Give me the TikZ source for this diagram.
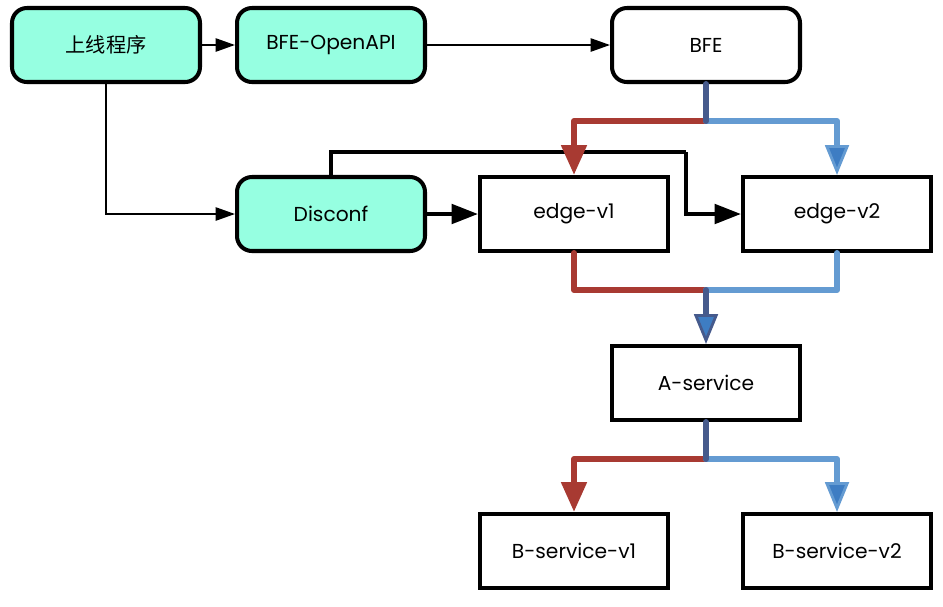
\documentclass[tikz,border=0pt]{standalone}
\usepackage{fontspec}
\setmainfont{Poppins}
\newfontfamily\cjk{Noto Sans CJK SC}
\usetikzlibrary{arrows.meta,shadows}
\definecolor{tealfill}{RGB}{150,255,225}
\definecolor{vred}{RGB}{168,58,50}
\definecolor{vblue}{RGB}{100,155,210}
\definecolor{vblueinner}{RGB}{62,125,195}
\definecolor{vdark}{RGB}{70,90,140}
\begin{document}
\begin{tikzpicture}[x=0.02cm,y=-0.02cm,
    font=\fontsize{11.5}{14}\selectfont,
    box/.style={draw=black,line width=2.3pt,minimum width=3.76cm,minimum height=1.48cm,
      fill=white,drop shadow={shadow xshift=0.6pt,shadow yshift=-1.2pt,opacity=0.2}},
    rbox/.style={box,rounded corners=8.5pt},
    tealbox/.style={rbox,fill=tealfill},
    thinarrow/.style={line width=1.1pt,-{Triangle[length=11pt,width=7.5pt]}},
    thickarrow/.style={line width=2.3pt,-{Triangle[length=15pt,width=11pt]}},
    thickline/.style={line width=2.3pt},
    redline/.style={draw=vred,line width=3.4pt,line cap=round,line join=round},
    blueline/.style={draw=vblue,line width=3.4pt,line cap=round,line join=round},
    darkline/.style={draw=vdark,line width=3.4pt,line cap=round},
    redtip/.style={-{Triangle[length=17pt,width=14pt,fill=vred]}},
    bluetip/.style={-{Triangle[length=17pt,width=13.5pt,line width=1.6pt,fill=vblueinner]}},
    darktip/.style={-{Triangle[length=17pt,width=13.5pt,line width=1.6pt,fill=vblueinner]}}]
  %\draw[very thin,gray] (0,0) grid[step=50] (943,606) ;
  \useasboundingbox (0,0) rectangle (943,606) ;
  % top row
  \node[tealbox] (prog) at (106,45) {\cjk 上线程序} ;
  \node[tealbox] (openapi) at (331,45) {BFE-OpenAPI} ;
  \node[rbox] (bfe) at (706,45) {BFE} ;
  % middle row
  \node[tealbox] (disconf) at (331,214) {Disconf} ;
  \node[box] (edgea) at (574,214) {edge-v1} ;
  \node[box] (edgeb) at (837,214) {edge-v2} ;
  \node[box] (asvc) at (706,383) {A-service} ;
  % bottom row
  \node[box] (bsvca) at (574,551) {B-service-v1} ;
  \node[box] (bsvcb) at (837,551) {B-service-v2} ;
  % release flow
  \draw[thinarrow] (prog) -- (openapi) ;
  \draw[thinarrow] (openapi) -- (bfe) ;
  \draw[thinarrow] (prog.south) |- (disconf.west) ;
  \draw[thickarrow] (disconf) -- (edgea) ;
  \coordinate (jog) at (686,152) ;
  \draw[thickline] (disconf.north) |- (jog) ;
  \draw[thickarrow] (jog) |- (edgeb.west) ;
  % BFE split
  \coordinate (splita) at (706,121) ;
  \draw[redline,redtip] (splita) -| (edgea.north) ;
  \draw[blueline,bluetip] (splita) -| (edgeb.north) ;
  \draw[darkline] (bfe.south) -- (splita) ;
  % merge into A-service
  \coordinate (mergea) at (706,290) ;
  \draw[redline] (edgea.south) |- (mergea) ;
  \draw[blueline] (edgeb.south) |- (mergea) ;
  \draw[darkline,darktip] (mergea) -- (asvc.north) ;
  % A-service split
  \coordinate (splitb) at (706,459) ;
  \draw[redline,redtip] (splitb) -| (bsvca.north) ;
  \draw[blueline,bluetip] (splitb) -| (bsvcb.north) ;
  \draw[darkline] (asvc.south) -- (splitb) ;
\end{tikzpicture}
\end{document}
